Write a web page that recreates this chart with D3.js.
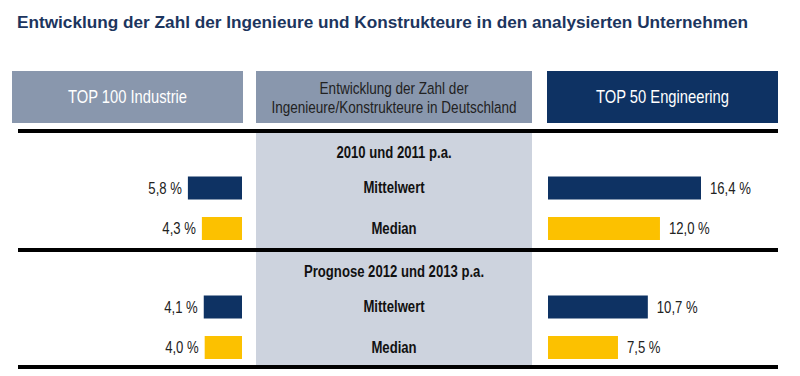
<!DOCTYPE html>
<html lang="de">
<head>
<meta charset="utf-8">
<title>Ingenieure und Konstrukteure</title>
<script src="https://cdn.jsdelivr.net/npm/d3@7"></script>
<style>
  body { margin: 0; background: #fff; }
  text { font-family: "Liberation Sans", Arial, sans-serif; }
</style>
</head>
<body>
<div id="chart"></div>
<script>
// data
let sections = ["2010 und 2011 p.a.", "Prognose 2012 und 2013 p.a."]
let measures = ["Mittelwert", "Median"]
let industrie = [[5.8, 4.3], [4.1, 4.0]]
let engineering = [[16.4, 12.0], [10.7, 7.5]]
let headers = ["TOP 100 Industrie", "Entwicklung der Zahl der|Ingenieure/Konstrukteure in Deutschland", "TOP 50 Engineering"]

let width = 800, height = 376
let navy = "#0e3263", gold = "#fcc100"
let narrow = 0.82
let fmt = v => d3.format(".1f")(v).replace(".", ",") + " %"

let svg = d3.select("#chart").append("svg").attr("width", width).attr("height", height)

// narrow text (the original uses a condensed face)
function ntext(x, y, str, size, anchor, fill, bold) {
  return svg.append("g")
    .attr("transform", "translate(" + x + "," + y + ") scale(" + narrow + ",1)")
    .append("text")
      .attr("text-anchor", anchor)
      .attr("fill", fill)
      .style("font-size", size + "px")
      .style("font-weight", bold ? "bold" : "normal")
      .text(str)
}

svg.append("text")
   .attr("x", 17).attr("y", 28)
   .attr("fill", "#1c355e")
   .attr("textLength", 731).attr("lengthAdjust", "spacingAndGlyphs")
   .style("font-weight", "bold").style("font-size", "16.5px")
   .text("Entwicklung der Zahl der Ingenieure und Konstrukteure in den analysierten Unternehmen")

// header boxes
let cols = [{x0: 12, x1: 243, fill: "#8997ad", color: "#fff", size: 18},
            {x0: 256, x1: 532, fill: "#8997ad", color: "#222", size: 16.5},
            {x0: 547, x1: 778, fill: navy, color: "#fff", size: 18}]

// middle grey column
svg.append("rect").attr("x", 256).attr("y", 131).attr("width", 276).attr("height", 236).attr("fill", "#cdd3de")

cols.forEach((c, i) => {
  svg.append("rect").attr("x", c.x0).attr("y", 71).attr("width", c.x1 - c.x0).attr("height", 52).attr("fill", c.fill)
  let lines = headers[i].split("|")
  lines.forEach((l, j) => {
    ntext((c.x0 + c.x1) / 2, 97 + 6 + (j - (lines.length - 1) / 2) * 19, l, c.size, "middle", c.color, false)
  })
})

let x = d3.scaleLinear().domain([0, 16.4]).range([0, 153])

let sectionTop = [131, 250]
let lineY = [131, 250, 367]
lineY.forEach(y => {
  svg.append("rect").attr("x", 18).attr("y", y - 2).attr("width", 760).attr("height", 4).attr("fill", "#000")
})

let rowOff = [57, 97.5]  // bar centres below section line
sections.forEach((s, si) => {
  let top = sectionTop[si]
  ntext(394, top + 27, s, 16, "middle", "#111", true)

  measures.forEach((m, mi) => {
    let cy = top + rowOff[mi]
    let col = mi == 0 ? navy : gold
    ntext(394, cy + 5, m, 16, "middle", "#111", true)

    let lv = industrie[si][mi]
    svg.append("rect").attr("x", 242 - x(lv)).attr("y", cy - 11.5).attr("width", x(lv)).attr("height", 23).attr("fill", col)
    ntext(242 - x(lv) - 6, cy + 5.5, fmt(lv), 16, "end", "#222", false)

    let rv = engineering[si][mi]
    svg.append("rect").attr("x", 548).attr("y", cy - 11.5).attr("width", x(rv)).attr("height", 23).attr("fill", col)
    ntext(548 + x(rv) + 9, cy + 5.5, fmt(rv), 16, "start", "#222", false)
  })
})
</script>
</body>
</html>
